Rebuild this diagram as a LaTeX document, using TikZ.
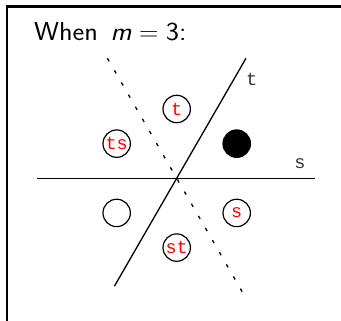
\documentclass[tikz,border=0pt]{standalone}
\usepackage{fontspec}
\setmonofont{Liberation Mono}
\usetikzlibrary{calc}
\tikzset{
  coset/.style={draw, circle, line width=1.2pt, minimum size=27.4pt, inner sep=0pt,
                text=red, font=\ttfamily\fontsize{18.5}{18.5}\selectfont},
  mirror/.style={line width=1.3pt},
  lbl/.style={font=\ttfamily\fontsize{18.5}{18.5}\selectfont, text=black!80}
}
\begin{document}
\begin{tikzpicture}[x=1pt, y=1pt]
  \useasboundingbox (0,0) rectangle (341,321);
  % frame
  \draw[line width=2.5pt] (7.2,-5) -- (7.2,314.5) -- (350,314.5);
  % title
  \node[anchor=base west, inner sep=0pt, xscale=1.08, font=\sffamily\fontsize{26}{26}\selectfont] (title) at (34,280.6)
       {When\hspace{0.45em}\textsl{m}$\;=\;$3:};

  \coordinate (o) at (176.7,142.7);
  % reflection lines
  \coordinate (sL) at (37.3,142.7);
  \coordinate (sR) at (315,142.7);
  \coordinate (tB) at ($(o)+(240:124.6)$);
  \coordinate (tT) at ($(o)+(60:138.6)$);
  \coordinate (dT) at ($(o)+(120:138.6)$);
  \coordinate (dB) at ($(o)+(-60:138.6)$);
  \draw[mirror] (sL) -- (sR);
  \draw[mirror] (tB) -- (tT);
  \draw[mirror, dash pattern=on 3.5pt off 10.5pt] (dT) -- (dB);
  \node[lbl] (slbl) at (300,157) {s};
  \node[lbl] (tlbl) at (251.7,241.7) {t};

  % cosets
  \node[coset] (ct)  at ($(o)+(90:69.3)$)  {t};
  \node[coset] (cts) at ($(o)+(150:69.3)$) {ts};
  \node[coset, fill=black] (ce) at ($(o)+(30:69.3)$) {};
  \node[coset] (cx)  at ($(o)+(210:69.3)$) {};
  \node[coset] (cs)  at ($(o)+(-30:69.3)$) {s};
  \node[coset] (cst) at ($(o)+(270:69.3)$) {st};
\end{tikzpicture}
\end{document}
